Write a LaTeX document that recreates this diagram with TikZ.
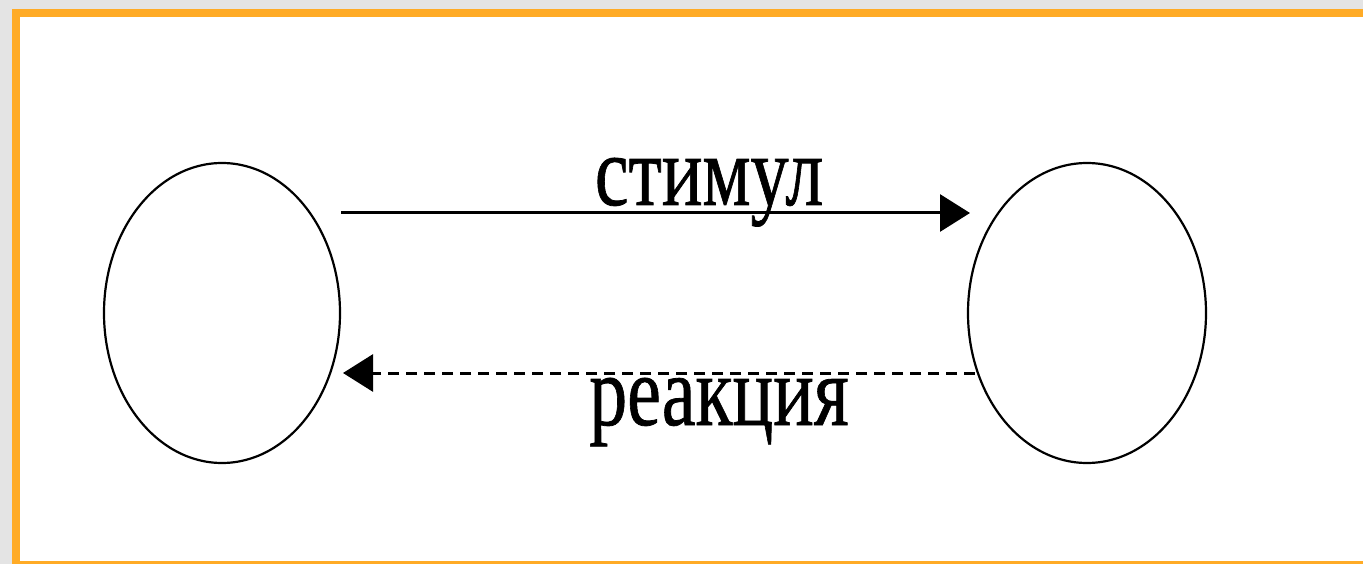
\documentclass[tikz,border=0pt]{standalone}
\usepackage{fontspec}
\setmainfont{Liberation Serif}
\newfontfamily\lblfont{Liberation Serif}[FakeBold=0.8]
\usetikzlibrary{arrows.meta}
\definecolor{framegrey}{HTML}{E4E4E4}
\definecolor{frameorange}{HTML}{FFAB26}
\tikzset{
  agent/.style={draw=black, line width=2.2pt},
  flow/.style={line width=3pt, -{Triangle[length=30pt,width=37pt]}},
  lbl/.style={anchor=base, inner sep=0pt, font=\lblfont\fontsize{100}{110}\selectfont}
}
\begin{document}
\begin{tikzpicture}[x=1pt,y=-1pt]
  \useasboundingbox (0,0) rectangle (1363,564);
  \clip (0,0) rectangle (1363,564);
  % page background and orange frame
  \fill[framegrey] (0,0) rectangle (1363,564);
  \fill[frameorange] (12,9) rectangle (1370,570);
  \fill[white] (20,17) rectangle (1370,561);
  % the two participants
  \draw[agent] (222,313) ellipse [x radius=118, y radius=150];
  \draw[agent] (1087,313) ellipse [x radius=119, y radius=150];
  \coordinate (a) at (341,213);
  \coordinate (b) at (970,213);
  \coordinate (c) at (975,373);
  \coordinate (d) at (343,373);
  % stimulus and response
  \draw[flow] (a) -- (b);
  \draw[flow, dash pattern=on 11pt off 7pt] (c) -- (d);
  \node[lbl] (s) at (709,205) {\scalebox{0.76}[1]{стимул}};
  \node[lbl] (r) at (719,425) {\scalebox{0.76}[1]{реакция}};
\end{tikzpicture}
\end{document}
